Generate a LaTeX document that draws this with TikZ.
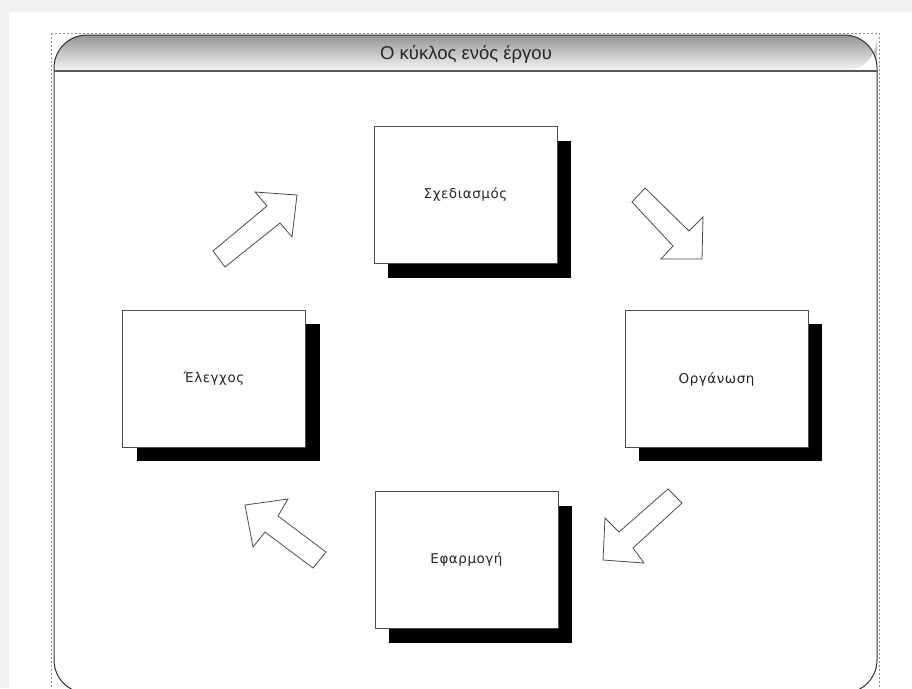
\documentclass[tikz,border=0pt]{standalone}
\usepackage{fontspec}
\setmainfont{DejaVu Sans}
\newfontfamily\titlefont{Liberation Sans}
\newfontfamily\labelfont[LetterSpace=4]{DejaVu Sans}
\begin{document}
\begin{tikzpicture}[x=1pt,y=-1pt]
\tikzset{
  box/.style={draw=black!70, fill=white, line width=0.8pt, minimum width=183pt, minimum height=137pt, inner sep=0pt, text=black!85, font=\labelfont\fontsize{13.5}{15}\selectfont},
  shadowbox/.style={fill=black, minimum width=183pt, minimum height=137pt, inner sep=0pt},
  blockarrow/.style={draw=black!70, fill=white, line width=0.8pt, line join=miter},
  frameline/.style={draw=black!80, line width=1pt}
}
\useasboundingbox (0,0) rectangle (912,688);
\clip (0,0) rectangle (912,688);
\fill[black!6] (0,0) rectangle (912,688);
\fill[white] (9,12) rectangle (912,688);
% dashed outline
\draw[black!45, line width=0.6pt, dash pattern=on 2pt off 2pt] (51,33) rectangle (879,700);
% header shading
\shade[top color=black!42, bottom color=black!3] (54,71) [rounded corners=33pt] -- (54,35) -- (877,35) -- (877,71) [sharp corners] -- cycle;
% frame
\draw[frameline, rounded corners=33pt] (54,35) rectangle (877,693);
\draw[black!65, line width=2pt] (54,71) -- (877,71);
\node[font=\titlefont\fontsize{18.5}{21}\selectfont, text=black!85] (title) at (466,54) {Ο κύκλος ενός έργου};
% shadows
\node[shadowbox] (s1) at (479.5,209.5) {};
\node[shadowbox] (s2) at (228,392.5) {};
\node[shadowbox] (s3) at (730.5,392.5) {};
\node[shadowbox] (s4) at (480.5,574.5) {};
% boxes
\node[box] (plan) at (465.5,194.5) {Σχεδιασμός};
\node[box] (control) at (214,379) {Έλεγχος};
\node[box] (org) at (716.5,379) {Οργάνωση};
\node[box] (impl) at (466.5,559.5) {Εφαρμογή};
% block arrows
\draw[blockarrow] (225,267) -- (213,251) -- (267,206) -- (255,192) -- (297,195) -- (292,237) -- (280,223) -- cycle;
\draw[blockarrow] (632,202) -- (645,188) -- (689,231) -- (703,217) -- (702,259) -- (661,259) -- (673,246) -- cycle;
\draw[blockarrow] (668,489) -- (682,503) -- (633,548) -- (644,563) -- (603,560) -- (605,518) -- (619,532) -- cycle;
\draw[blockarrow] (245,505) -- (288,499) -- (278,516) -- (326,552) -- (313,568) -- (265,532) -- (253,547) -- cycle;
\end{tikzpicture}
\end{document}
